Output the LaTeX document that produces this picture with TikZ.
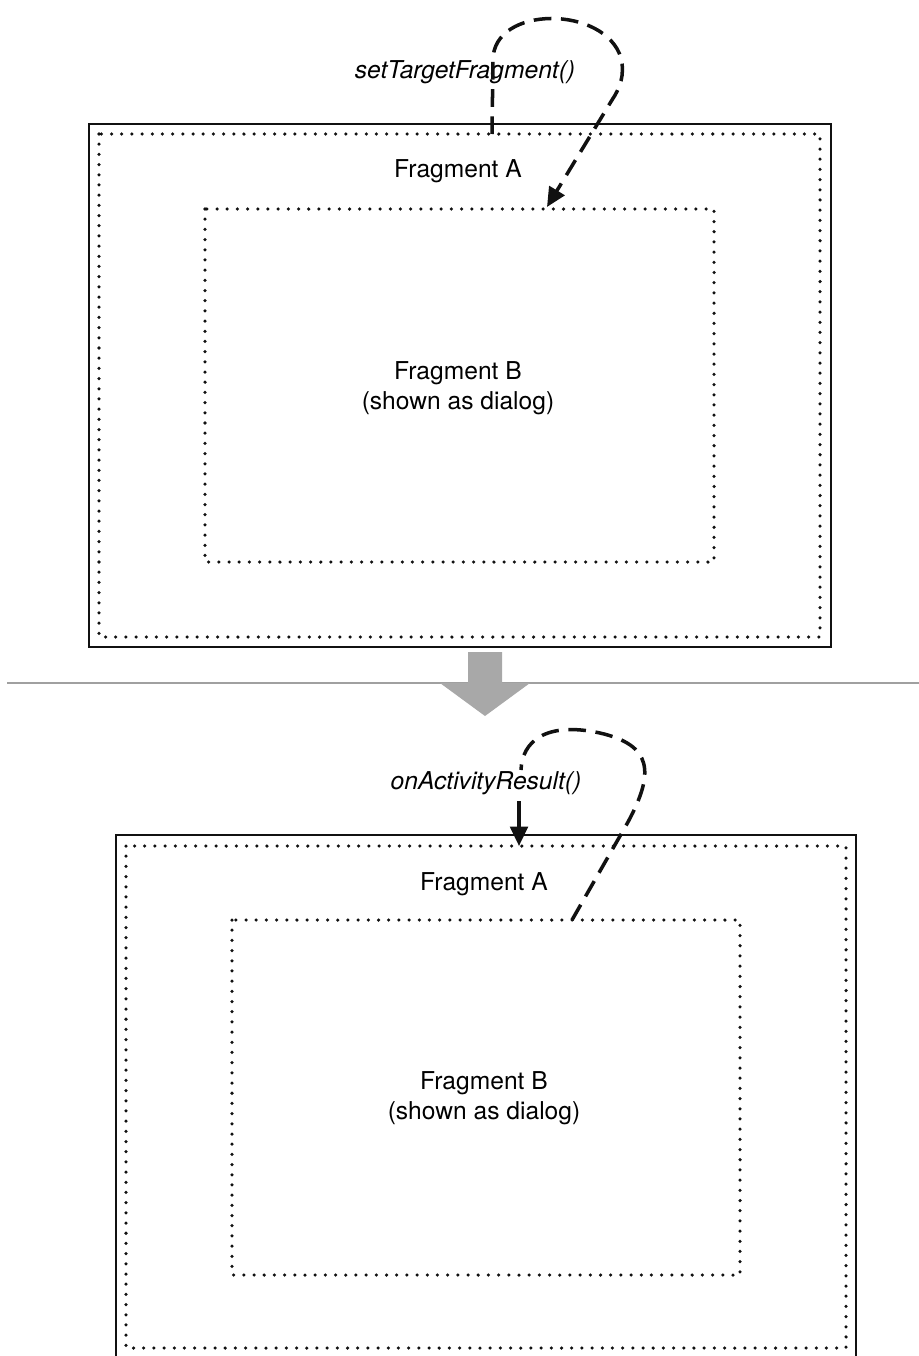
\documentclass[tikz,border=0pt]{standalone}
\usepackage{fontspec}
\setmainfont{TeX Gyre Heros}
\usetikzlibrary{arrows.meta,calc,positioning}
\definecolor{Ink}{HTML}{111111}
\definecolor{Shade}{HTML}{A8A8A8}
\definecolor{Rule}{HTML}{A0A0A0}
\tikzset{
  outerbox/.style={Ink,line width=1.6pt},
  dotbox/.style={Ink,line width=2pt,line cap=round,dash pattern=on 0pt off 5.8pt},
  callpath/.style={Ink,line width=2pt,dash pattern=on 10pt off 5.5pt},
  boxtext/.style={font=\fontsize{14}{17}\selectfont,align=center,inner sep=0pt},
  calltext/.style={font=\fontsize{14}{17}\selectfont\itshape,inner sep=0pt}
}
\begin{document}
\begin{tikzpicture}[x=0.02cm,y=-0.02cm]
      \useasboundingbox (0,0) rectangle (919,1356);
      \clip (0,0) rectangle (919,1356);
      % before: fragment A starts fragment B
      \draw[outerbox] (89,124) rectangle (831,647);
      \draw[dotbox] (99,134) rectangle (820,637);
      \draw[dotbox] (205,209) rectangle (714,562);
      \node[boxtext] (fragAtop) at (458,171) {Fragment A};
      \node[boxtext] (fragBtop) at (458,388) {Fragment B\\(shown as dialog)};
      \node[calltext] (settarget) at (465,72) {setTargetFragment()};
      \coordinate (sendstart) at (492,134);
      \coordinate (sendend) at (547,207);
      \draw[callpath,-{Triangle[length=11pt,width=10pt]}] (sendstart) -- (493,60)
        .. controls (493,5) and (605,5) .. (621,58)
        .. controls (625,75) and (620,88) .. (612,100) -- (sendend);
      % transition
      \draw[Rule,line width=1.2pt] (7,683) -- (919,683);
      \fill[Shade] (468,652) -- (502,652) -- (502,683) -- (530,683) -- (485,716)
        -- (440,683) -- (468,683) -- cycle;
      % after: fragment B returns its result
      \draw[outerbox] (116,835) rectangle (856,1400);
      \draw[dotbox] (126,846) rectangle (846,1348);
      \draw[dotbox] (232,920) rectangle (740,1275);
      \node[boxtext] (fragAbot) at (484,884) {Fragment A};
      \node[boxtext] (fragBbot) at (484,1098) {Fragment B\\(shown as dialog)};
      \node[calltext] (onresult) at (486,783) {onActivityResult()};
      \coordinate (backstart) at (572,920);
      \coordinate (backend) at (521,770);
      \draw[callpath] (backstart) -- (628,822)
        .. controls (655,772) and (652,745) .. (600,733)
        .. controls (545,721) and (522,742) .. (backend);
      \coordinate (resultin) at (519,801);
      \coordinate (resultat) at (519,846);
      \draw[Ink,line width=1.9pt,-{Triangle[length=11pt,width=10pt]}] (resultin) -- (resultat);
    \end{tikzpicture}
\end{document}
